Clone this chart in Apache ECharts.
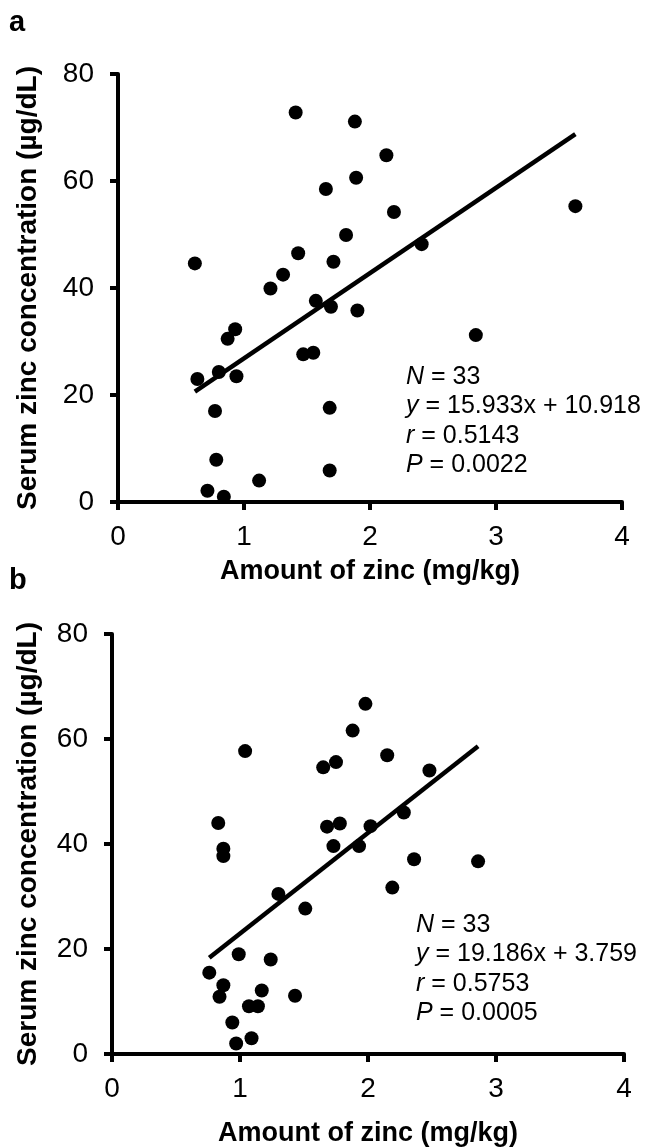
<!DOCTYPE html>
<html>
<head>
<meta charset="utf-8">
<script src="https://cdn.jsdelivr.net/npm/echarts@6/dist/echarts.min.js"></script>
<style>
html,body{margin:0;padding:0;background:#fff;}
#chart{width:646px;height:1148px;}
</style>
</head>
<body>
<div id="chart"></div>
<script>
// Panel a data
const xA = [0.61,0.63,0.80,0.77,0.78,0.71,0.84,0.87,0.93,0.94,1.12,1.21,1.31,1.41,1.43,1.47,1.55,1.57,1.65,1.69,1.71,1.68,1.68,1.81,1.88,1.89,1.90,2.13,2.19,2.41,2.84,3.63];
const yA = [44.6,23.0,24.3,17.0,7.9,2.1,1.0,30.5,32.3,23.5,4.0,39.9,42.5,72.8,46.5,27.6,27.9,37.6,58.5,36.5,44.9,17.6,5.9,49.9,71.1,60.6,35.8,64.8,54.2,48.2,31.2,55.3];
const fitA = [[0.61,20.64],[3.63,68.75]];
// Panel b data
const xB = [0.76,0.83,0.84,0.87,0.87,0.87,0.94,0.97,0.99,1.04,1.07,1.09,1.14,1.17,1.24,1.30,1.43,1.51,1.65,1.68,1.73,1.75,1.78,1.88,1.93,1.98,2.02,2.15,2.19,2.28,2.36,2.48,2.86];
const yB = [15.5,44.0,10.9,13.1,39.1,37.7,6.0,2.0,19.0,57.7,9.1,3.0,9.1,12.1,18.0,30.5,11.1,27.7,54.6,43.3,39.6,55.6,43.9,61.6,39.6,66.7,43.4,56.9,31.7,46.0,37.1,54.0,36.7];
const fitB = [[0.76,18.34],[2.86,58.63]];
// Axis ticks / labels
const xTicks = {min:0, max:4, interval:1};
const yTicks = {min:0, max:80, interval:20};
const panelLabels = ['a','b'];
const xTitle = 'Amount of zinc (mg/kg)';
const yTitle = 'Serum zinc concentration (µg/dL)';
const statsA = ['33','15.933x + 10.918','0.5143','0.0022'];
const statsB = ['33','19.186x + 3.759','0.5753','0.0005'];

const FONT = '"Liberation Sans", Arial, Helvetica, sans-serif';
const axisLine = {show:true, onZero:false, lineStyle:{color:'#000', width:4}};
const axisTick = {show:true, inside:false, length:8, lineStyle:{color:'#000', width:4}};

function xAxis(gi, gap, margin){
  return {type:'value', gridIndex:gi, min:xTicks.min, max:xTicks.max, interval:xTicks.interval,
    axisLine, axisTick, splitLine:{show:false},
    axisLabel:{color:'#000', fontSize:28, fontFamily:FONT, margin:margin},
    name:xTitle, nameLocation:'middle', nameGap:gap,
    nameTextStyle:{color:'#000', fontSize:27, fontWeight:'bold', fontFamily:FONT}};
}
function yAxis(gi, gap){
  return {type:'value', gridIndex:gi, min:yTicks.min, max:yTicks.max, interval:yTicks.interval,
    axisLine, axisTick, splitLine:{show:false},
    axisLabel:{color:'#000', fontSize:28, fontFamily:FONT, margin:24},
    name:yTitle, nameLocation:'middle', nameGap:gap, nameRotate:90,
    nameTextStyle:{color:'#000', fontSize:28, fontWeight:'bold', fontFamily:FONT}};
}
function zip(xs, ys){ return xs.map((x,i)=>[x, ys[i]]); }
function statText(s){
  return ['{i|N} = '+s[0], '{i|y} = '+s[1], '{i|r} = '+s[2], '{i|P} = '+s[3]].join('\n');
}
function statGraphic(left, top, s){
  return {type:'text', left, top, style:{text:statText(s), fill:'#000', font:'25px '+FONT, lineHeight:29.5,
    rich:{i:{fontStyle:'italic', fontSize:25, fontFamily:FONT, fill:'#000'}}}};
}

const chart = echarts.init(document.getElementById('chart'), null, {renderer:'canvas'});
chart.setOption({
  backgroundColor:'#fff',
  animation:false,
  grid:[
    {left:118, top:74, width:504, height:428},
    {left:112, top:634, width:512, height:422}
  ],
  xAxis:[xAxis(0,56,21), xAxis(1,66,21)],
  yAxis:[yAxis(0,76), yAxis(1,70)],
  series:[
    {type:'scatter', xAxisIndex:0, yAxisIndex:0, data:zip(xA,yA), symbolSize:14, itemStyle:{color:'#000', opacity:1}},
    {type:'line', xAxisIndex:0, yAxisIndex:0, data:fitA, showSymbol:false, lineStyle:{color:'#000', width:4.5}},
    {type:'scatter', xAxisIndex:1, yAxisIndex:1, data:zip(xB,yB), symbolSize:14, itemStyle:{color:'#000', opacity:1}},
    {type:'line', xAxisIndex:1, yAxisIndex:1, data:fitB, showSymbol:false, lineStyle:{color:'#000', width:4.5}}
  ],
  graphic:[
    {type:'text', left:9, top:8, style:{text:panelLabels[0], fill:'#000', font:'bold 29px '+FONT}},
    {type:'text', left:9, top:566, style:{text:panelLabels[1], fill:'#000', font:'bold 29px '+FONT}},
    statGraphic(406, 362, statsA),
    statGraphic(416, 910, statsB)
  ]
});
</script>
</body>
</html>
